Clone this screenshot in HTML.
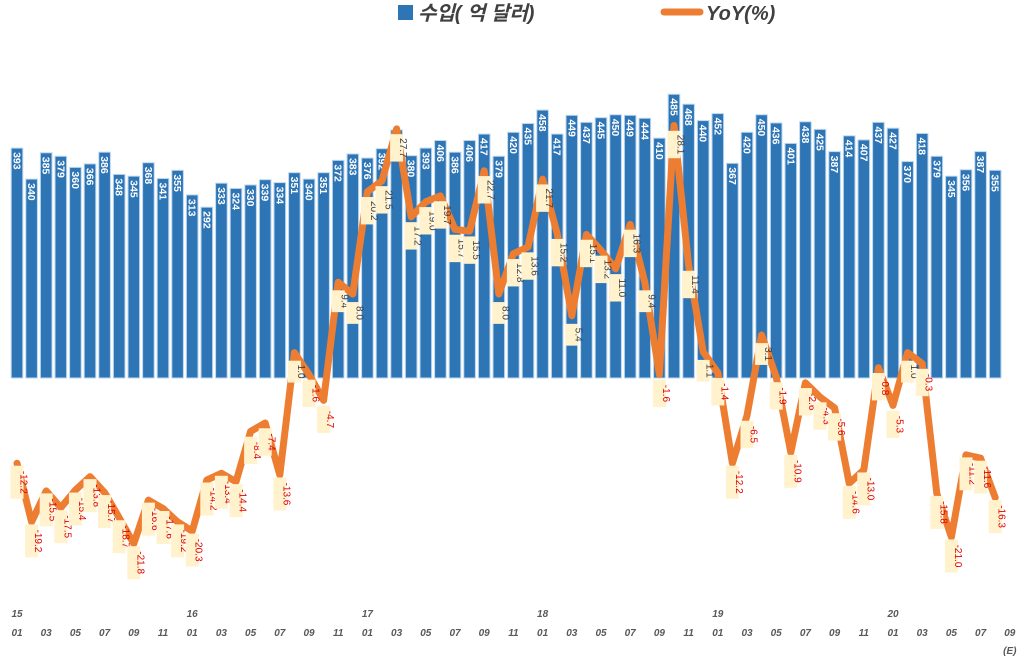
<!DOCTYPE html>
<html><head><meta charset="utf-8"><style>
body{margin:0;background:#fff;width:1024px;height:671px;overflow:hidden}
svg{display:block;font-family:"Liberation Sans","Noto Sans CJK KR",sans-serif}
</style></head><body>
<svg id="c" width="1024" height="671"></svg>
<script>
const months=["15-01","15-02","15-03","15-04","15-05","15-06","15-07","15-08","15-09","15-10","15-11","15-12","16-01","16-02","16-03","16-04","16-05","16-06","16-07","16-08","16-09","16-10","16-11","16-12","17-01","17-02","17-03","17-04","17-05","17-06","17-07","17-08","17-09","17-10","17-11","17-12","18-01","18-02","18-03","18-04","18-05","18-06","18-07","18-08","18-09","18-10","18-11","18-12","19-01","19-02","19-03","19-04","19-05","19-06","19-07","19-08","19-09","19-10","19-11","19-12","20-01","20-02","20-03","20-04","20-05","20-06","20-07","20-08"];
const imports=[393,340,385,379,360,366,386,348,345,368,341,355,313,292,333,324,330,339,334,351,340,351,372,383,376,392,424,380,393,406,386,406,417,379,420,435,458,417,449,437,445,450,449,444,410,485,468,440,452,367,420,450,436,401,438,425,387,414,407,437,427,370,418,379,345,356,387,355];
const yoy=[-12.2,-19.2,-15.5,-17.5,-15.4,-13.8,-15.7,-18.7,-21.8,-16.6,-17.6,-19.2,-20.3,-14.2,-13.4,-14.4,-8.4,-7.4,-13.6,1.0,-1.6,-4.7,9.4,8.0,20.2,21.5,27.7,17.2,19.0,19.7,15.7,15.5,22.7,8.0,12.8,13.6,21.7,15.2,5.4,15.1,13.2,11.0,16.3,9.4,-1.6,28.1,11.4,1.1,-1.4,-12.2,-6.5,3.1,-1.9,-10.9,-2.6,-4.3,-5.6,-14.6,-13.0,-0.8,-5.3,1.0,-0.3,-15.8,-21.0,-11.2,-11.6,-16.3];
const xYears=["15","16","17","18","19","20"];
const NS="http://www.w3.org/2000/svg";
const svg=document.getElementById('c');
const base=378;
const x=i=>17+14.6*i;
const yb=v=>base-v*0.585;
const yl=v=>361-v*8.38;
function mk(t,a,p){const e=document.createElementNS(NS,t);for(const k in a)e.setAttribute(k,a[k]);(p||svg).appendChild(e);return e;}
// bars
imports.forEach((v,i)=>{
 const r=mk('rect',{x:x(i)-5.8,y:yb(v),width:11.6,height:base-yb(v),fill:'#2E75B6',stroke:'#BDD7EE','stroke-width':1});
 
 
 const t=mk('text',{x:0,y:0,fill:'#fff','font-size':10.5,'font-weight':'bold','text-anchor':'start',transform:`translate(${x(i)-3.5},${yb(v)+4}) rotate(90)`});
 t.textContent=v;
 
 
});
// line
const pl=mk('polyline',{points:yoy.map((v,i)=>x(i)+','+yl(v)).join(' '),fill:'none',stroke:'#ED7D31','stroke-width':7,'stroke-linejoin':'round','stroke-linecap':'round'});


yoy.forEach((v,i)=>{
 const s=v.toFixed(1);
 const w=s.length*5.6+5;
 const cy=yl(v)+19;
 const g=mk('g',{});
 
 
 mk('rect',{x:x(i)-6.5,y:cy-w/2,width:13,height:w,fill:'#FFF2CC'},g);
 const t=mk('text',{fill:v<0?'#E00000':'#404040','font-size':10,'text-anchor':'middle',transform:`translate(${x(i)+3.5},${cy}) rotate(90)`},g);
 t.textContent=s;
});
// axis labels
for(let i=0;i<=68;i+=2){
 const mm=((i%12)+1).toString().padStart(2,'0');
 const t=mk('text',{x:x(i),y:636,fill:'#595959','font-size':10,'font-style':'italic','font-weight':'bold','text-anchor':'middle'});
 t.textContent=mm;
 
 
 if(i%12===0){const y=mk('text',{x:x(i),y:617,fill:'#595959','font-size':10,'font-style':'italic','font-weight':'bold','text-anchor':'middle'});y.textContent=xYears[i/12];
 
 }
}
const e=mk('text',{x:x(68),y:654,fill:'#595959','font-size':10,'font-style':'italic','font-weight':'bold','text-anchor':'middle'});e.textContent='(E)';


// legend
const lg=mk('g',{});


mk('rect',{x:398,y:5,width:15,height:15,fill:'#2E75B6'},lg);
const l1=mk('text',{x:418,y:20,fill:'#404040','font-size':20,'font-style':'italic','font-weight':'bold'},lg);l1.textContent='수입( 억 달러)';
mk('line',{x1:664,y1:12,x2:700,y2:12,stroke:'#ED7D31','stroke-width':7,'stroke-linecap':'round'},lg);
const l2=mk('text',{x:706,y:20,fill:'#404040','font-size':20,'font-style':'italic','font-weight':'bold'},lg);l2.textContent='YoY(%)';
</script>
</body></html>
